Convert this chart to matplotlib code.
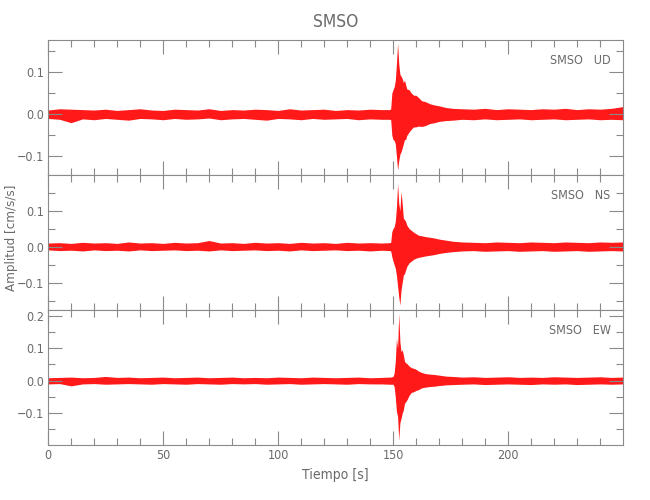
import numpy as np
import matplotlib
matplotlib.use("Agg")
import matplotlib.pyplot as plt
from matplotlib.ticker import MultipleLocator, FuncFormatter

# =====================================================
# DATA  (envelope of each trace)
# =====================================================

station = "SMSO"
components = ["UD", "NS", "EW"]

# noise knots before / after the event, seconds
t_pre = [0, 5, 10, 15, 20, 25, 30, 35, 40, 45, 50, 55, 60, 65, 70,
         75, 80, 85, 90, 95, 100, 105, 110, 115, 120, 125, 130, 135, 140, 145, 148.5]
t_evt = [149.0, 149.5, 150.0, 150.5, 151.0, 151.5, 152.0, 152.5, 153.0, 153.5,
         154.0, 154.5, 155.0, 155.5, 156.0, 157.0, 158.0, 159.0, 160.0, 161.0,
         162.5, 164.0, 166.0, 168.0, 170.0, 173.0, 176.0]
t_post = [180, 185, 190, 195, 200, 205, 210, 215, 220, 225, 230, 235, 240, 245, 249.9]

# UD
ud_pre_hi = [0.010, 0.013, 0.012, 0.011, 0.010, 0.012, 0.009, 0.011, 0.013, 0.010,
             0.009, 0.012, 0.011, 0.010, 0.013, 0.009, 0.011, 0.010, 0.012, 0.011,
             0.009, 0.013, 0.010, 0.011, 0.012, 0.009, 0.011, 0.010, 0.012, 0.011, 0.011]
ud_pre_lo = [-0.010, -0.012, -0.020, -0.011, -0.013, -0.010, -0.012, -0.014, -0.010, -0.011,
             -0.013, -0.010, -0.012, -0.011, -0.009, -0.013, -0.011, -0.010, -0.012, -0.014,
             -0.010, -0.011, -0.013, -0.010, -0.012, -0.011, -0.010, -0.013, -0.011, -0.012, -0.012]
ud_evt_hi = [0.013, 0.050, 0.058, 0.065, 0.080, 0.120, 0.168, 0.120, 0.095, 0.090,
             0.085, 0.075, 0.081, 0.070, 0.060, 0.058, 0.050, 0.045, 0.045, 0.040,
             0.032, 0.030, 0.025, 0.022, 0.020, 0.016, 0.014]
ud_evt_lo = [-0.013, -0.050, -0.060, -0.062, -0.070, -0.100, -0.132, -0.110, -0.095, -0.089,
             -0.080, -0.070, -0.060, -0.060, -0.050, -0.042, -0.035, -0.030, -0.030, -0.028,
             -0.029, -0.027, -0.022, -0.020, -0.017, -0.015, -0.014]
ud_post_hi = [0.013, 0.012, 0.014, 0.011, 0.013, 0.012, 0.011, 0.013, 0.012, 0.014,
              0.011, 0.013, 0.012, 0.014, 0.018]
ud_post_lo = [-0.012, -0.013, -0.011, -0.013, -0.012, -0.011, -0.013, -0.012, -0.011, -0.013,
              -0.012, -0.011, -0.013, -0.012, -0.013]

# NS
ns_pre_hi = [0.010, 0.011, 0.009, 0.012, 0.010, 0.011, 0.009, 0.013, 0.010, 0.011,
             0.009, 0.012, 0.010, 0.011, 0.017, 0.010, 0.011, 0.009, 0.012, 0.010,
             0.011, 0.009, 0.012, 0.010, 0.011, 0.009, 0.012, 0.010, 0.011, 0.010, 0.011]
ns_pre_lo = [-0.009, -0.011, -0.010, -0.012, -0.009, -0.011, -0.010, -0.012, -0.009, -0.011,
             -0.010, -0.009, -0.011, -0.010, -0.012, -0.009, -0.011, -0.010, -0.009, -0.011,
             -0.010, -0.012, -0.009, -0.011, -0.010, -0.009, -0.011, -0.010, -0.012, -0.010, -0.011]
ns_evt_hi = [0.012, 0.042, 0.050, 0.055, 0.070, 0.110, 0.175, 0.120, 0.100, 0.153,
             0.120, 0.079, 0.075, 0.070, 0.060, 0.050, 0.045, 0.040, 0.036, 0.032,
             0.030, 0.028, 0.026, 0.024, 0.021, 0.018, 0.015]
ns_evt_lo = [-0.012, -0.028, -0.040, -0.050, -0.060, -0.080, -0.110, -0.140, -0.162, -0.120,
             -0.100, -0.079, -0.075, -0.065, -0.055, -0.045, -0.040, -0.035, -0.032, -0.030,
             -0.028, -0.026, -0.024, -0.022, -0.019, -0.016, -0.014]
ns_post_hi = [0.013, 0.012, 0.011, 0.013, 0.012, 0.011, 0.013, 0.012, 0.011, 0.013,
              0.012, 0.011, 0.013, 0.012, 0.013]
ns_post_lo = [-0.012, -0.011, -0.013, -0.012, -0.011, -0.013, -0.012, -0.011, -0.013, -0.012,
              -0.011, -0.013, -0.012, -0.011, -0.012]

# EW
ew_pre_hi = [0.009, 0.010, 0.011, 0.009, 0.010, 0.013, 0.010, 0.011, 0.009, 0.010,
             0.011, 0.009, 0.010, 0.011, 0.009, 0.010, 0.011, 0.009, 0.010, 0.009,
             0.011, 0.010, 0.009, 0.011, 0.010, 0.009, 0.010, 0.011, 0.009, 0.010, 0.011]
ew_pre_lo = [-0.010, -0.009, -0.016, -0.010, -0.009, -0.011, -0.010, -0.009, -0.010, -0.011,
             -0.009, -0.010, -0.011, -0.009, -0.010, -0.011, -0.009, -0.010, -0.009, -0.011,
             -0.010, -0.009, -0.011, -0.010, -0.009, -0.010, -0.011, -0.009, -0.010, -0.010, -0.011]
ew_evt_hi = [0.011, 0.012, 0.013, 0.023, 0.060, 0.130, 0.100, 0.207, 0.120, 0.089,
             0.095, 0.080, 0.060, 0.055, 0.053, 0.045, 0.040, 0.038, 0.035, 0.030,
             0.025, 0.022, 0.020, 0.019, 0.017, 0.014, 0.013]
ew_evt_lo = [-0.011, -0.011, -0.011, -0.018, -0.050, -0.095, -0.110, -0.183, -0.130, -0.116,
             -0.100, -0.090, -0.070, -0.065, -0.060, -0.045, -0.036, -0.034, -0.030, -0.028,
             -0.022, -0.020, -0.018, -0.017, -0.015, -0.013, -0.012]
ew_post_hi = [0.011, 0.012, 0.010, 0.011, 0.012, 0.010, 0.011, 0.010, 0.012, 0.011,
              0.010, 0.011, 0.012, 0.010, 0.011]
ew_post_lo = [-0.011, -0.010, -0.012, -0.011, -0.010, -0.011, -0.012, -0.010, -0.011, -0.010,
              -0.012, -0.011, -0.010, -0.011, -0.010]

# axis ranges of each panel
x_range = (0, 249.9)
y_ranges = [(-0.144, 0.176), (-0.176, 0.199), (-0.198, 0.2175)]

# =====================================================
# FIGURE
# =====================================================

plt.rcParams["font.family"] = ["DejaVu Sans"]
plt.rcParams["font.stretch"] = "condensed"

gray = "#8a8a8a"
txt = "#6a6a6a"

fig = plt.figure(figsize=(6.5, 5.0), dpi=100)

left, right = 0.074, 0.958
tops = [0.92, 0.65, 0.38]
h = 0.27

traces = [
    (ud_pre_hi, ud_pre_lo, ud_evt_hi, ud_evt_lo, ud_post_hi, ud_post_lo),
    (ns_pre_hi, ns_pre_lo, ns_evt_hi, ns_evt_lo, ns_post_hi, ns_post_lo),
    (ew_pre_hi, ew_pre_lo, ew_evt_hi, ew_evt_lo, ew_post_hi, ew_post_lo),
]

t_all = np.array(t_pre + t_evt + t_post)


def fmt(v, pos):
    s = f"{v:.1f}"
    if s == "-0.0":
        s = "0.0"
    return s.replace("-", "\u2212")


axes = []
for i, comp in enumerate(components):
    ax = fig.add_axes([left, tops[i] - h, right - left, h])
    axes.append(ax)

    pre_hi, pre_lo, evt_hi, evt_lo, post_hi, post_lo = traces[i]
    hi = np.array(pre_hi + evt_hi + post_hi)
    lo = np.array(pre_lo + evt_lo + post_lo)

    ax.fill_between(t_all, lo, hi, color="#ff0000", alpha=0.9, linewidth=0)

    ax.set_xlim(*x_range)
    ax.set_ylim(*y_ranges[i])

    ax.xaxis.set_major_locator(MultipleLocator(50))
    ax.xaxis.set_minor_locator(MultipleLocator(10))
    ax.yaxis.set_major_locator(MultipleLocator(0.1))
    ax.yaxis.set_minor_locator(MultipleLocator(0.05))
    ax.yaxis.set_major_formatter(FuncFormatter(fmt))

    ax.tick_params(which="both", direction="in", top=True, right=True,
                   color=gray, labelcolor=txt, labelsize=9, width=0.8)
    ax.tick_params(which="major", length=10, pad=3)
    ax.tick_params(which="minor", length=5)
    for s in ax.spines.values():
        s.set_color(gray)
        s.set_linewidth(0.8)

    if i < 2:
        ax.tick_params(labelbottom=False)

    ax.text(0.979, 0.845, f"{station}   {comp}", transform=ax.transAxes,
            ha="right", va="center", fontsize=9, color=txt)

axes[2].set_xlabel("Tiempo [s]", fontsize=10, color=txt, labelpad=4)

fig.text(12 / 650, 1 - 238 / 500, "Amplitud [cm/s/s]", rotation=90,
         ha="center", va="center", fontsize=9.5, color=txt)

fig.text((left + right) / 2, 0.956, station, ha="center", va="center",
         fontsize=12.5, color=txt)

plt.savefig("out.png", dpi=100)
